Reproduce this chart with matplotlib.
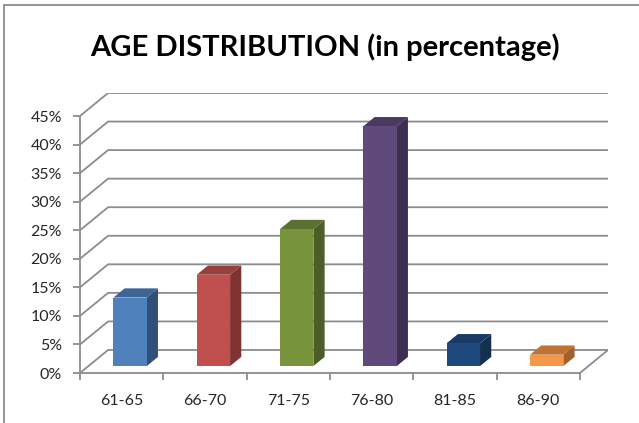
import matplotlib
matplotlib.use("Agg")
import matplotlib.pyplot as plt
from matplotlib.patches import Polygon, Rectangle
from matplotlib.ticker import FixedLocator, NullFormatter, FixedFormatter

# Data
categories = ["61-65", "66-70", "71-75", "76-80", "81-85", "86-90"]
values = [12, 16, 24, 42, 4, 2]
yticks = [0, 5, 10, 15, 20, 25, 30, 35, 40, 45]
ytick_labels = ["0%", "5%", "10%", "15%", "20%", "25%", "30%", "35%", "40%", "45%"]
title = "AGE DISTRIBUTION (in percentage)"

# Face colours: front, top, side
front_colors = ["#4F81BD", "#C0504D", "#77933C", "#604A7B", "#1F497D", "#F79646"]
top_colors = ["#3D6596", "#983E3B", "#5B7130", "#4A3960", "#183A64", "#BE7334"]
side_colors = ["#30507A", "#7F3432", "#4B5E27", "#3D2F50", "#132F51", "#A2612C"]

# Oblique depth of the floor/walls in data units
DDX = 0.337
DDY = 4.03
BAR_W = 0.4
D0, D1 = 0.30, 0.70   # bar depth range as fraction of full depth

W, H = 639, 423
fig = plt.figure(figsize=(W / 100, H / 100), dpi=100)
fig.patch.set_facecolor("white")

# Outer chart frame
fig.patches.append(Rectangle((4 / W, -0.1), 1.2, 1 - 5 / H + 0.1,
                             transform=fig.transFigure, fill=False,
                             edgecolor="#8C8C8C", lw=1.3))

ax = fig.add_axes([80 / W, 50 / H, 528 / W, 280 / H])
ncat = len(categories)
ymax = yticks[-1]
ax.set_xlim(0, ncat + DDX)
ax.set_ylim(0, ymax + DDY)
ax.set_facecolor("none")

grid_c = "#8C8C8C"
# Gridlines on the left wall and back wall
for t in yticks:
    ax.plot([0, DDX, ncat + DDX], [t, t + DDY, t + DDY], color=grid_c, lw=1.3,
            solid_capstyle="butt", zorder=1)
# Floor right edge
ax.plot([ncat, ncat + DDX], [0, DDY], color=grid_c, lw=1.3, zorder=1)

# Bars as oblique boxes
for i, v in enumerate(values):
    cx = i + 0.5
    x0 = cx - BAR_W / 2 + D0 * DDX
    x1 = cx + BAR_W / 2 + D0 * DDX
    y0 = D0 * DDY
    ox = (D1 - D0) * DDX
    oy = (D1 - D0) * DDY
    front = [(x0, y0), (x1, y0), (x1, y0 + v), (x0, y0 + v)]
    top = [(x0, y0 + v), (x1, y0 + v), (x1 + ox, y0 + v + oy), (x0 + ox, y0 + v + oy)]
    side = [(x1, y0), (x1 + ox, y0 + oy), (x1 + ox, y0 + v + oy), (x1, y0 + v)]
    ax.add_patch(Polygon(side, closed=True, facecolor=side_colors[i], edgecolor="none", zorder=3))
    ax.add_patch(Polygon(top, closed=True, facecolor=top_colors[i], edgecolor="none", zorder=3))
    ax.add_patch(Polygon(front, closed=True, facecolor=front_colors[i], edgecolor="none", zorder=4))

# Axes lines
for s in ["top", "right"]:
    ax.spines[s].set_visible(False)
ax.spines["left"].set_bounds(0, ymax)
ax.spines["bottom"].set_bounds(0, ncat)
for s in ["left", "bottom"]:
    ax.spines[s].set_color(grid_c)
    ax.spines[s].set_linewidth(1.3)
    ax.spines[s].set_zorder(2)

ax.yaxis.set_major_locator(FixedLocator(yticks))
ax.yaxis.set_major_formatter(FixedFormatter(ytick_labels))
ax.xaxis.set_major_locator(FixedLocator(list(range(ncat + 1))))
ax.xaxis.set_major_formatter(NullFormatter())
ax.xaxis.set_minor_locator(FixedLocator([i + 0.5 for i in range(ncat)]))
ax.xaxis.set_minor_formatter(FixedFormatter(categories))

label_font = "Lato"
ax.tick_params(axis="y", which="major", direction="out", length=5, width=1.3,
               color=grid_c, pad=8, labelsize=11.5, labelcolor="#262626")
ax.tick_params(axis="x", which="major", direction="out", length=5, width=1.3, color=grid_c)
ax.tick_params(axis="x", which="minor", length=0, pad=15, labelsize=11.5, labelcolor="#262626")
for lab in ax.get_yticklabels() + ax.get_xticklabels(minor=True):
    lab.set_fontfamily(label_font)

fig.text(325 / W, 1 - 47 / H, title, ha="center", va="center",
         fontsize=21, fontweight="bold", family="Lato", color="black")

fig.savefig("out.png", dpi=100, facecolor="white")
